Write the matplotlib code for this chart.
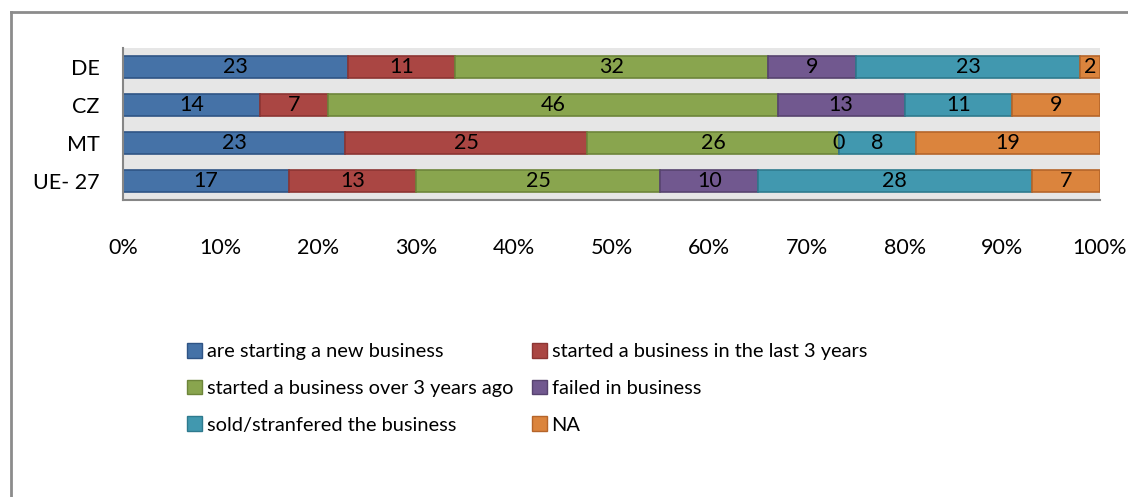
import matplotlib
matplotlib.use("Agg")
import matplotlib.pyplot as plt
import numpy as np
from matplotlib.lines import Line2D
from matplotlib.patches import Patch

plt.rcParams['font.family'] = ['Lato', 'DejaVu Sans']

categories = ["DE", "CZ", "MT", "UE- 27"]
series_names = ["are starting a new business",
                "started a business in the last 3 years",
                "started a business over 3 years ago",
                "failed in business",
                "sold/stranfered the business",
                "NA"]
values = {
    "are starting a new business": [23, 14, 23, 17],
    "started a business in the last 3 years": [11, 7, 25, 13],
    "started a business over 3 years ago": [32, 46, 26, 25],
    "failed in business": [9, 13, 0, 10],
    "sold/stranfered the business": [23, 11, 8, 28],
    "NA": [2, 9, 19, 7],
}
x_ticks = [0, 10, 20, 30, 40, 50, 60, 70, 80, 90, 100]
x_ticklabels = ["0%", "10%", "20%", "30%", "40%", "50%", "60%", "70%", "80%", "90%", "100%"]

face = ["#4572A7", "#AA4643", "#89A54E", "#71588F", "#4198AF", "#DB843D"]
edge = ["#2F5485", "#8C3533", "#6D853A", "#57436F", "#2E7A8E", "#B5652A"]

W, H = 1128, 497
fig = plt.figure(figsize=(W / 100, H / 100), dpi=100)
ax = fig.add_axes([123 / W, 1 - 200 / H, (1100 - 123) / W, (200 - 48) / H])
ax.set_facecolor("#E6E6E6")

FS = 15.5
data = np.array([values[s] for s in series_names], dtype=float)
totals = data.sum(axis=0)
pct = data / totals * 100
y = np.arange(len(categories))
left = np.zeros(len(categories))
for i, s in enumerate(series_names):
    ax.barh(y, pct[i], left=left, height=0.6, color=face[i], edgecolor=edge[i],
            linewidth=1.2, label=s)
    for j in range(len(categories)):
        cx = left[j] + pct[i][j] / 2
        ax.text(cx, y[j], f"{int(data[i][j])}", ha="center", va="center",
                fontsize=FS, color="black")
    left += pct[i]

ax.set_ylim(len(categories) - 0.5, -0.5)
ax.set_xlim(0, 100)
ax.set_yticks(y)
ax.set_yticklabels(categories, fontsize=FS)
ax.set_xticks(x_ticks)
ax.set_xticklabels(x_ticklabels, fontsize=FS)
ax.tick_params(axis="both", length=0)
ax.tick_params(axis="x", pad=27)
ax.tick_params(axis="y", pad=17)
for sp in ["top", "right"]:
    ax.spines[sp].set_visible(False)
for sp in ["left", "bottom"]:
    ax.spines[sp].set_color("#868686")
    ax.spines[sp].set_linewidth(1.5)

order = [0, 2, 4, 1, 3, 5]
handles = [Patch(facecolor=face[i], edgecolor=edge[i], linewidth=1.0) for i in order]
labels = [series_names[i] for i in order]
leg = fig.legend(handles, labels, ncol=2, loc="upper left",
                 bbox_to_anchor=(187 / W, 1 - 343 / H), frameon=False,
                 borderaxespad=0, borderpad=0,
                 fontsize=14.4, handlelength=0.75, handleheight=0.75,
                 handletextpad=0.25, columnspacing=0.9, labelspacing=0.97)

fig.add_artist(Line2D([11 / W, 11 / W], [0, 1 - 12 / H], transform=fig.transFigure,
                      color="#8C8C8C", linewidth=2))
fig.add_artist(Line2D([11 / W, 1.0], [1 - 12 / H, 1 - 12 / H], transform=fig.transFigure,
                      color="#8C8C8C", linewidth=2))

fig.savefig("out.png", dpi=100)
